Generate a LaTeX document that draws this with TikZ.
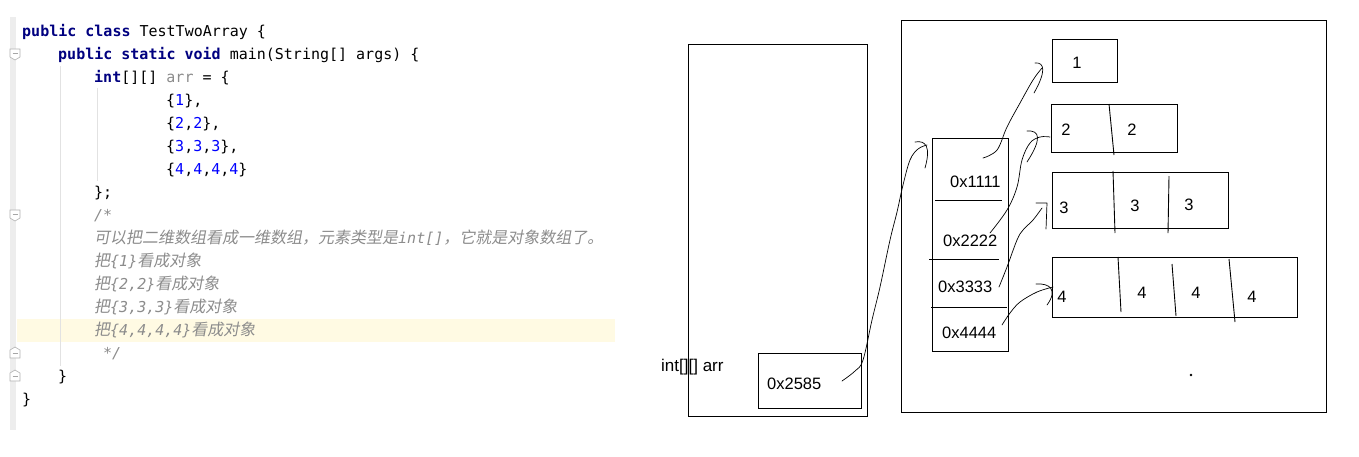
\documentclass[tikz,border=0pt]{standalone}
\usepackage{fontspec}
\setmainfont{Liberation Sans}
\newfontfamily\codefont{DejaVu Sans Mono}
\newfontfamily\cjkfont[FakeSlant=0.18]{Noto Sans CJK SC}
\definecolor{kwcol}{HTML}{000080}
\definecolor{numcol}{HTML}{0000FF}
\definecolor{cmtcol}{HTML}{8C8C8C}
\definecolor{varcol}{HTML}{8C8C8C}
\definecolor{hlcol}{HTML}{FFFAE3}
\definecolor{guttercol}{HTML}{EDEDED}
\definecolor{guidecol}{HTML}{E2E2E2}
\newcommand{\kw}[1]{\textcolor{kwcol}{\bfseries #1}}
\newcommand{\nm}[1]{\textcolor{numcol}{#1}}
\newcommand{\cj}[1]{{\cjkfont\fontsize{16}{16}\selectfont #1}}
\begin{document}
\begin{tikzpicture}[x=1pt,y=-1pt,
  code/.style={font=\codefont\fontsize{15}{15}\selectfont, inner sep=0, anchor=base west},
  cmt/.style={font=\codefont\itshape\fontsize{15}{15}\selectfont, text=cmtcol, inner sep=0, anchor=base west},
  box/.style={draw, line width=0.9pt, inner sep=0, anchor=north west},
  lbl/.style={font=\fontsize{16.5}{16.5}\selectfont, inner sep=0},
  hand/.style={line width=0.7pt, line cap=round, line join=round},
  divider/.style={line width=0.9pt},
  foldmark/.style={draw=gray!60, fill=white, line width=0.6pt},
]
\useasboundingbox (0,0) rectangle (1359,456);
\fill[white] (0,0) rectangle (1359,456);

% ---------------- code panel ----------------
\fill[guttercol] (10,17) rectangle (16,430);
\fill[hlcol] (17,319) rectangle (615,342);
\draw[guidecol, line width=0.8pt] (60,66) -- (60,366);
\draw[guidecol, line width=0.8pt] (97,88) -- (97,181);

% fold markers
\draw[foldmark] (10,49) -- (20,49) -- (20,57) -- (15,60) -- (10,57) -- cycle;
\draw[gray!70, line width=0.6pt] (12.5,53.5) -- (17.5,53.5);
\draw[foldmark] (10,210) -- (20,210) -- (20,218) -- (15,221) -- (10,218) -- cycle;
\draw[gray!70, line width=0.6pt] (12.5,214.5) -- (17.5,214.5);
\draw[foldmark] (10,358) -- (20,358) -- (20,350) -- (15,347) -- (10,350) -- cycle;
\draw[gray!70, line width=0.6pt] (12.5,353.5) -- (17.5,353.5);
\draw[foldmark] (10,381) -- (20,381) -- (20,373) -- (15,370) -- (10,373) -- cycle;
\draw[gray!70, line width=0.6pt] (12.5,376.5) -- (17.5,376.5);

\node[code] (l1) at (22,36) {\kw{public class} TestTwoArray \{};
\node[code] (l2) at (58,59) {\kw{public static void} main(String[] args) \{};
\node[code] (l3) at (94,82) {\kw{int}[][] \textcolor{varcol}{arr} = \{};
\node[code] (l4) at (166,105) {\{\nm{1}\},};
\node[code] (l5) at (166,128) {\{\nm{2},\nm{2}\},};
\node[code] (l6) at (166,151) {\{\nm{3},\nm{3},\nm{3}\},};
\node[code] (l7) at (166,174) {\{\nm{4},\nm{4},\nm{4},\nm{4}\}};
\node[code] (l8) at (94,197) {\};};
\node[cmt] (l9) at (94,220) {/*};
\node[cmt] (l10) at (94,243) {\cj{可以把二维数组看成一维数组，元素类型是}int[]\cj{，它就是对象数组了。}};
\node[cmt] (l11) at (94,266) {\cj{把}\{1\}\cj{看成对象}};
\node[cmt] (l12) at (94,289) {\cj{把}\{2,2\}\cj{看成对象}};
\node[cmt] (l13) at (94,312) {\cj{把}\{3,3,3\}\cj{看成对象}};
\node[cmt] (l14) at (94,335) {\cj{把}\{4,4,4,4\}\cj{看成对象}};
\node[cmt] (l15) at (103,358) {*/};
\node[code] (l16) at (58,381) {\}};
\node[code] (l17) at (22,404) {\}};

% ---------------- memory diagram ----------------
\node[box, minimum width=179pt, minimum height=372pt] (stack) at (688,44) {};
\node[box, minimum width=103pt, minimum height=55pt] (refcell) at (758,353) {};
\node[lbl, anchor=west] (addr) at (767,384) {0x2585};
\node[lbl, anchor=west, font=\fontsize{17}{17}\selectfont] (varname) at (661,367) {int[][] arr};

\node[box, minimum width=425pt, minimum height=392pt] (heap) at (901,20) {};
\node[box, minimum width=76pt, minimum height=213pt] (ptrs) at (932,138) {};
\draw[divider] (935,200) -- (1002,200);
\draw[divider] (929,259) -- (999,259);
\draw[divider] (931,307) -- (1007,307);
\node[lbl, anchor=west] (a1) at (950,182) {0x1111};
\node[lbl, anchor=west] (a2) at (943,241) {0x2222};
\node[lbl, anchor=west] (a3) at (938,287) {0x3333};
\node[lbl, anchor=west] (a4) at (942,333) {0x4444};

\node[box, minimum width=65pt, minimum height=43pt] (r1) at (1052,39) {};
\node[box, minimum width=126pt, minimum height=48pt] (r2) at (1051,104) {};
\node[box, minimum width=176pt, minimum height=56pt] (r3) at (1052,172) {};
\node[box, minimum width=245pt, minimum height=60pt] (r4) at (1052,257) {};

\draw[divider] (1109,104) -- (1114,155);
\draw[divider] (1113,171) -- (1115,233);
\draw[divider] (1169,176) -- (1168,233);
\draw[divider] (1118,257) -- (1121,312);
\draw[divider] (1172,264) -- (1176,316);
\draw[divider] (1229,259) -- (1235,322);

\node[lbl] (v11) at (1077,63) {1};
\node[lbl] (v21) at (1066,130) {2};
\node[lbl] (v22) at (1132,130) {2};
\node[lbl] (v31) at (1064,208) {3};
\node[lbl] (v32) at (1135,206) {3};
\node[lbl] (v33) at (1189,205) {3};
\node[lbl] (v41) at (1062,297) {4};
\node[lbl] (v42) at (1142,293) {4};
\node[lbl] (v43) at (1196,293) {4};
\node[lbl] (v44) at (1252,297) {4};
\fill (1191,375) circle (1.3);

% connector end points
\coordinate (s0) at (842,381);
\coordinate (e0) at (927,145);
\coordinate (s1) at (983,158);
\coordinate (e1) at (1042,68);
\coordinate (s2) at (990,233);
\coordinate (e2) at (1050,137);
\coordinate (s3) at (999,287);
\coordinate (e3) at (1042,208);
\coordinate (s4) at (1002,325);
\coordinate (e4) at (1053,287);

% hand-drawn connectors
\draw[hand] plot[smooth, tension=0.6] coordinates {(s0) (855,371) (863,360) (872,320) (880,287) (890,240) (897,212) (903,185) (910,160) (918,149) (e0)};
\draw[hand] (915,142) .. controls (926,140) and (931,147) .. (925,168);

\draw[hand] plot[smooth, tension=0.6] coordinates {(s1) (997,150) (1007,127) (1020,103) (1033,80) (e1)};
\draw[hand] (1035,63) .. controls (1045,62) and (1046,72) .. (1034,93);

\draw[hand] plot[smooth, tension=0.6] coordinates {(s2) (1007,210) (1017,187) (1022,160) (1030,143) (1040,137) (e2)};
\draw[hand] (1027,131) .. controls (1040,130) and (1042,139) .. (1027,162);

\draw[hand] plot[smooth, tension=0.6] coordinates {(s3) (1007,267) (1017,240) (1023,230) (1033,220) (e3)};
\draw[hand] (1036,203) -- (1047,203) -- (1046,229);

\draw[hand] plot[smooth, tension=0.6] coordinates {(s4) (1010,313) (1020,302) (1037,292) (e4)};
\draw[hand] (1036,284) .. controls (1050,283) and (1058,290) .. (1047,305);
\end{tikzpicture}
\end{document}
